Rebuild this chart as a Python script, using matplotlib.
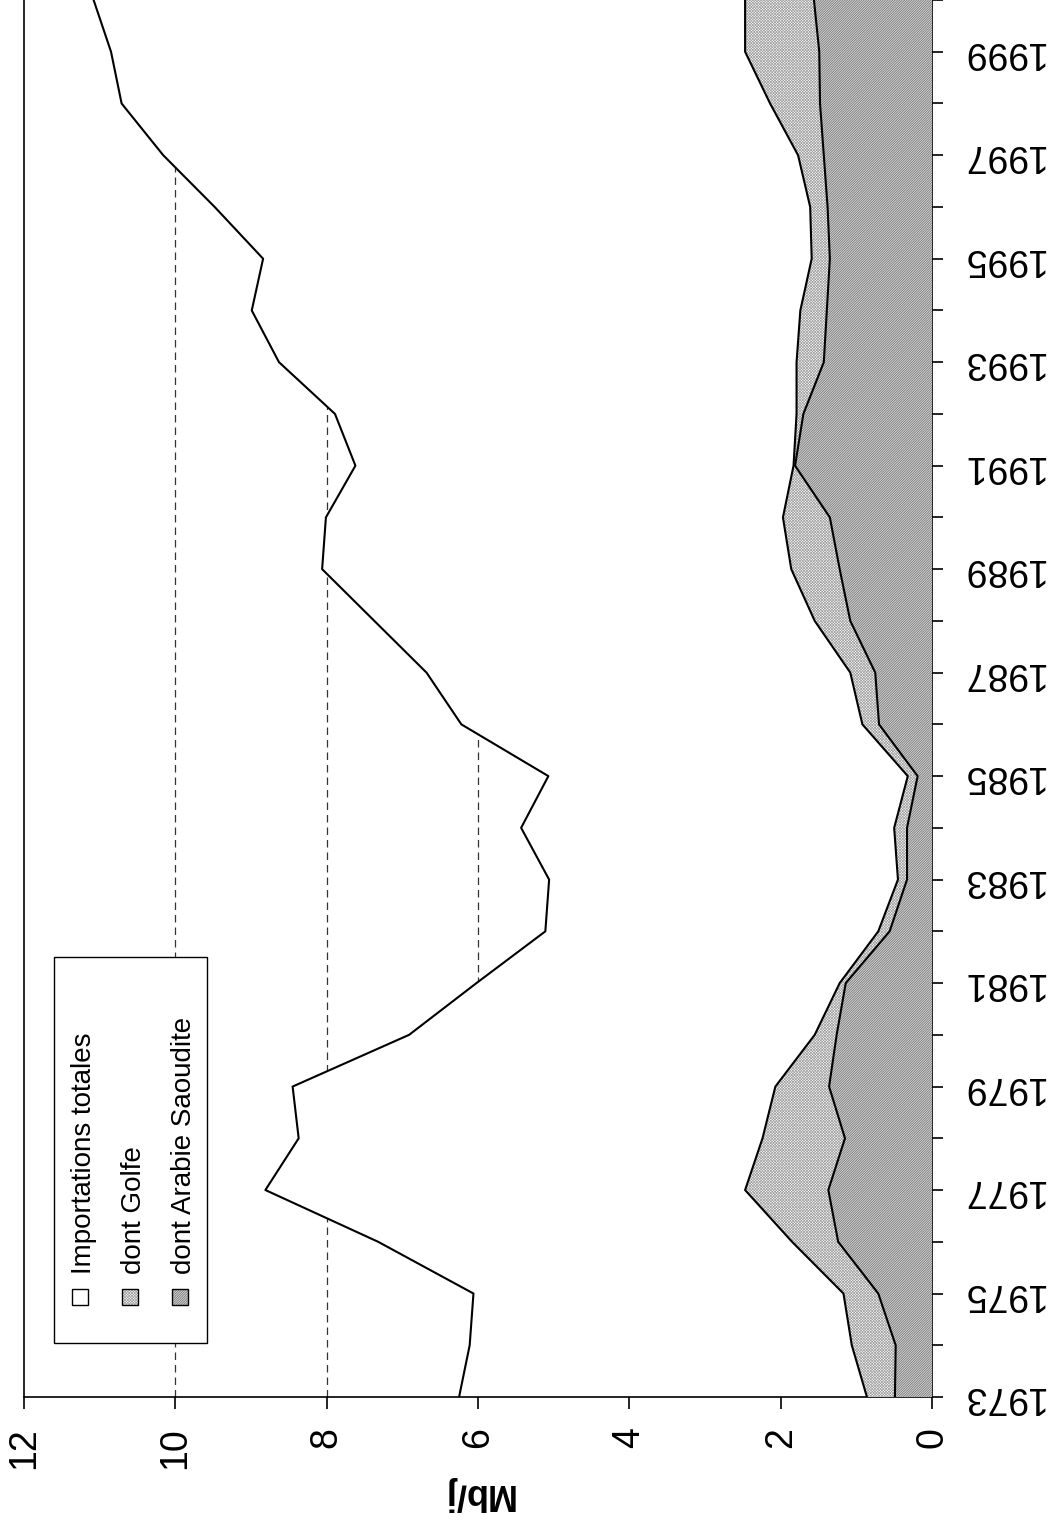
import matplotlib
matplotlib.use('Agg')
import matplotlib.pyplot as plt
from matplotlib.patches import Rectangle
import numpy as np

plt.rcParams['font.family'] = ['Liberation Sans', 'DejaVu Sans']
plt.rcParams['hatch.linewidth'] = 0.5

# données (Mb/j)
annees = np.arange(1973, 2001)
importations = [6.25, 6.11, 6.06, 7.32, 8.81, 8.37, 8.45, 6.91, 6.02, 5.11,
                5.06, 5.43, 5.07, 6.22, 6.68, 7.37, 8.06, 8.01, 7.62, 7.89,
                8.63, 8.99, 8.84, 9.48, 10.16, 10.71, 10.85, 11.08]
golfe = [0.86, 1.06, 1.17, 1.85, 2.47, 2.24, 2.07, 1.55, 1.22, 0.71,
         0.45, 0.50, 0.32, 0.92, 1.08, 1.55, 1.86, 1.97, 1.83, 1.79,
         1.79, 1.74, 1.59, 1.61, 1.77, 2.14, 2.47, 2.47]
arabie = [0.49, 0.48, 0.71, 1.24, 1.37, 1.15, 1.36, 1.26, 1.14, 0.56,
          0.33, 0.33, 0.19, 0.70, 0.75, 1.08, 1.22, 1.35, 1.81, 1.70,
          1.43, 1.39, 1.35, 1.38, 1.43, 1.48, 1.49, 1.56]
labels_legende = ['Importations totales', 'dont Golfe', 'dont Arabie Saoudite']
ticks_val = [0, 2, 4, 6, 8, 10, 12]

W, H = 1051, 1524
fig = plt.figure(figsize=(W / 100, H / 100), dpi=100)
# zone du graphique (en pixels : x 24..932, y 0..1397)
ax = fig.add_axes([24 / W, 1 - 1397 / H, (932 - 24) / W, 1397 / H])

# lignes de grille en tirets (cachées par la zone blanche)
for v in [2, 4, 6, 8, 10]:
    ax.axvline(v, color='#333333', lw=0.9, ls=(0, (6, 4)), zorder=1)

ax.fill_betweenx(annees, 0, importations, facecolor='white', lw=0, zorder=2)
ax.plot(importations, annees, color='black', lw=1.5, zorder=5)

hatch_golfe = dict(facecolor='white', edgecolor='#a0a0a0', hatch='x' * 12)
hatch_arabie = dict(facecolor='#d4d4d4', edgecolor='#6e6e6e', hatch='/' * 14)
ax.fill_betweenx(annees, arabie, golfe, lw=0, zorder=3, **hatch_golfe)
ax.fill_betweenx(annees, 0, arabie, lw=0, zorder=3, **hatch_arabie)
ax.plot(golfe, annees, color='black', lw=1.5, zorder=5)
ax.plot(arabie, annees, color='black', lw=1.5, zorder=5)

ax.set_xlim(12, 0)
ax.set_ylim(1973, 2000)
ax.spines['top'].set_visible(False)
for s in ['left', 'right', 'bottom']:
    ax.spines[s].set_linewidth(1.2)

ax.set_xticks(ticks_val)
ax.set_xticklabels([str(t) for t in ticks_val], rotation=90, fontsize=27)
ax.tick_params(axis='x', direction='out', length=8.5, width=1.2, pad=13)

ax.yaxis.tick_right()
ax.set_yticks(annees[::2])
ax.set_yticks(annees[1::2], minor=True)
ax.set_yticklabels([str(a) for a in annees[::2]], rotation=180, fontsize=27)
ax.tick_params(axis='y', which='both', direction='out', length=8, width=1.2, pad=13)
for lab in ax.get_yticklabels():
    lab.set_verticalalignment('center')

fig.text(478 / W, 1 - 1494 / H, 'Mb/j', rotation=180, ha='center', va='center',
         fontsize=26, fontweight='bold')

# légende dessinée à la main
def px(x, y):
    return x / W, 1 - y / H

x0, y0 = px(54, 1343)
x1, y1 = px(207, 957)
fig.add_artist(Rectangle((x0, y0), x1 - x0, y1 - y0, transform=fig.transFigure,
                         facecolor='white', edgecolor='black', lw=1.0, zorder=10))
styles = [dict(facecolor='white', hatch=None, edgecolor='black'),
          hatch_golfe, hatch_arabie]
cols = [80, 130, 180]
for cx, lab, st in zip(cols, labels_legende, styles):
    sx, sy = px(cx - 8, 1305)
    sw, sh = 16 / W, 16 / H
    fig.add_artist(Rectangle((sx, sy), sw, sh, transform=fig.transFigure,
                             lw=0, zorder=11, **st))
    fig.add_artist(Rectangle((sx, sy), sw, sh, transform=fig.transFigure,
                             facecolor='none', edgecolor='black', lw=1.0, zorder=12))
    tx, ty = px(cx + 4, 1274)
    fig.text(tx, ty, lab, rotation=90, ha='center', va='bottom', fontsize=20, zorder=12)

fig.savefig('out.png', dpi=100)
